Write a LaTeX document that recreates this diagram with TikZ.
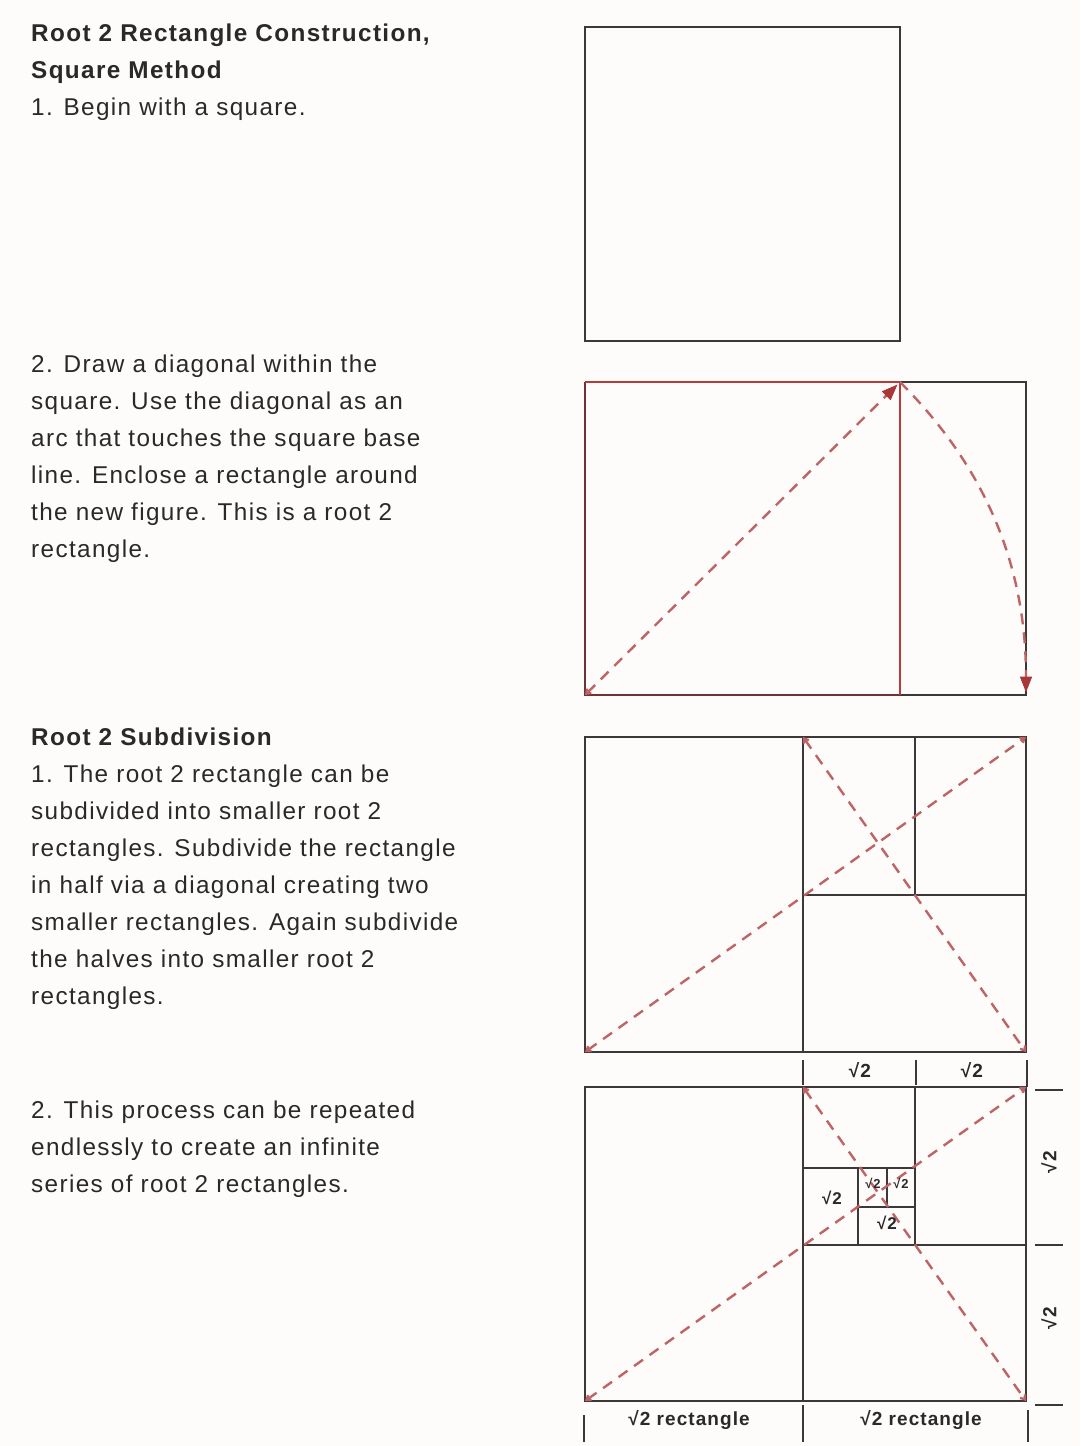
\documentclass[tikz,border=0pt]{standalone}
\usepackage{fontspec}
\setmainfont{Liberation Sans}[LetterSpace=5.6]
\usetikzlibrary{arrows.meta}
\definecolor{ink}{HTML}{2A2828}
\definecolor{framecol}{HTML}{3C3838}
\definecolor{redline}{HTML}{B83A3A}
\definecolor{darkred}{HTML}{6E3434}
\definecolor{dashred}{HTML}{BE6464}
\definecolor{tipred}{HTML}{A83838}
\definecolor{paper}{HTML}{FDFCFB}
\begin{document}
\begin{tikzpicture}[x=1pt,y=-1pt,
  txt/.style={anchor=base west, inner sep=0pt, text=ink, font=\fontsize{24.3}{28}\selectfont},
  ttl/.style={txt, font=\fontsize{24.3}{28}\selectfont\bfseries},
  framed/.style={draw=framecol, line width=2.5pt},
  construct/.style={draw=dashred, line width=2.4pt, dash pattern=on 11pt off 8pt},
  tick/.style={draw=framecol, line width=2.5pt},
  bigtip/.style={draw=tipred, fill=tipred, line width=1pt, solid, line join=miter},
  lbl/.style={inner sep=0pt, text=ink, font=\fontsize{19}{21}\selectfont\bfseries},
  slbl/.style={inner sep=0pt, text=ink, font=\fontsize{17}{19}\selectfont\bfseries},
  tlbl/.style={inner sep=0pt, text=ink, font=\fontsize{13}{14}\selectfont\bfseries},
  small tips/.style={{Straight Barb[length=4pt,width=6pt]}-{Straight Barb[length=4pt,width=6pt]}}
]
\fill[paper] (0,0) rectangle (1080,1446);
\useasboundingbox (0,0) rectangle (1080,1446);

% ---------- left column text ----------
\node[ttl] (a1) at (31,41) {Root 2 Rectangle Construction,};
\node[ttl] (a2) at (31,78) {Square Method};
\node[txt] (a3) at (31,115) {1. Begin with a square.};

\foreach \t [count=\i from 0] in {2. Draw a diagonal within the, square. Use the diagonal as an, arc that touches the square base, line. Enclose a rectangle around, the new figure. This is a root 2, rectangle.}
  \node[txt] (b\i) at (31,372+37*\i) {\t};

\node[ttl] (c0) at (31,745) {Root 2 Subdivision};
\foreach \t [count=\i from 1] in {1. The root 2 rectangle can be, subdivided into smaller root 2, rectangles. Subdivide the rectangle, in half via a diagonal creating two, smaller rectangles. Again subdivide, the halves into smaller root 2, rectangles.}
  \node[txt] (c\i) at (31,745+37*\i) {\t};

\foreach \t [count=\i from 0] in {2. This process can be repeated, endlessly to create an infinite, series of root 2 rectangles.}
  \node[txt] (d\i) at (31,1118+37*\i) {\t};

% ---------- figure 1 ----------
\draw[framed] (585,27) rectangle (900,341);

% ---------- figure 2 ----------
\coordinate (f2bl) at (585,695);
\coordinate (f2tl) at (585,382);
\coordinate (f2sq) at (900,382);
\coordinate (f2sqb) at (900,695);
\coordinate (f2tr) at (1026,382);
\coordinate (f2br) at (1026,695);
\draw[framed] (f2sq) -- (f2tr) -- (f2br) -- (f2sqb);
\draw[line width=2.5pt, darkred, line join=miter] (f2sqb) -- (f2bl) -- (f2tl);
\draw[line width=2.5pt, redline] (f2tl) -- (f2sq) -- (f2sqb);
% diagonal with arrow tips
\coordinate (f2d1) at (888.6,393.3);
\draw[construct, {Straight Barb[length=4pt,width=6pt]}-] (f2bl) -- (f2d1);
\draw[bigtip] (896.5,385.5) -- (890.5,399.3) -- (882.7,391.5) -- cycle;
% arc with arrow tip
\coordinate (f2a) at (1026,677);
\draw[construct] (f2sq) .. controls +(83,83) and +(0,-115) .. (f2a);
\draw[bigtip] (1026,691) -- (1020.5,677) -- (1031.5,677) -- cycle;

% ---------- figure 3 ----------
\draw[framed] (585,737) rectangle (1026,1052);
\draw[framed] (803,737) -- (803,1052);
\draw[framed] (915,737) -- (915,895);
\draw[framed] (803,895) -- (1026,895);
\draw[construct, small tips] (585,1052) -- (1026,737);
\draw[construct, small tips] (803,737) -- (1026,1052);
\draw[tick] (803,1060) -- (803,1085);
\draw[tick] (916,1060) -- (916,1085);
\draw[tick] (1027,1060) -- (1027,1087);
\node[lbl] (l3a) at (860,1070) {√2};
\node[lbl] (l3b) at (972,1070) {√2};

% ---------- figure 4 ----------
\draw[framed] (585,1087) rectangle (1026,1401);
\draw[framed] (803,1087) -- (803,1401);
\draw[framed] (915,1087) -- (915,1245);
\draw[framed] (803,1245) -- (1026,1245);
\draw[framed] (803,1168) -- (915,1168);
\draw[framed] (858,1168) -- (858,1245);
\draw[framed] (858,1207) -- (915,1207);
\draw[framed] (887,1168) -- (887,1207);
\draw[construct, small tips] (585,1401) -- (1026,1087);
\draw[construct, small tips] (803,1087) -- (1026,1401);
\node[slbl] (l4a) at (832,1198) {√2};
\node[tlbl] (l4b) at (873,1183) {√2};
\node[tlbl] (l4c) at (901,1183) {√2};
\node[slbl] (l4d) at (887,1223) {√2};
% right ticks and labels
\draw[tick] (1035,1090) -- (1063,1090);
\draw[tick] (1035,1245) -- (1063,1245);
\draw[tick] (1035,1405) -- (1063,1405);
\node[lbl, rotate=90] (r1) at (1049,1162) {√2};
\node[lbl, rotate=90] (r2) at (1049,1318) {√2};
% bottom ticks and labels
\draw[tick] (584,1415) -- (584,1442);
\draw[tick] (803,1405) -- (803,1442);
\draw[tick] (1028,1410) -- (1028,1442);
\node[lbl] (bl1) at (689,1420) {√2 rectangle};
\node[lbl] (bl2) at (921,1420) {√2 rectangle};
\end{tikzpicture}
\end{document}
